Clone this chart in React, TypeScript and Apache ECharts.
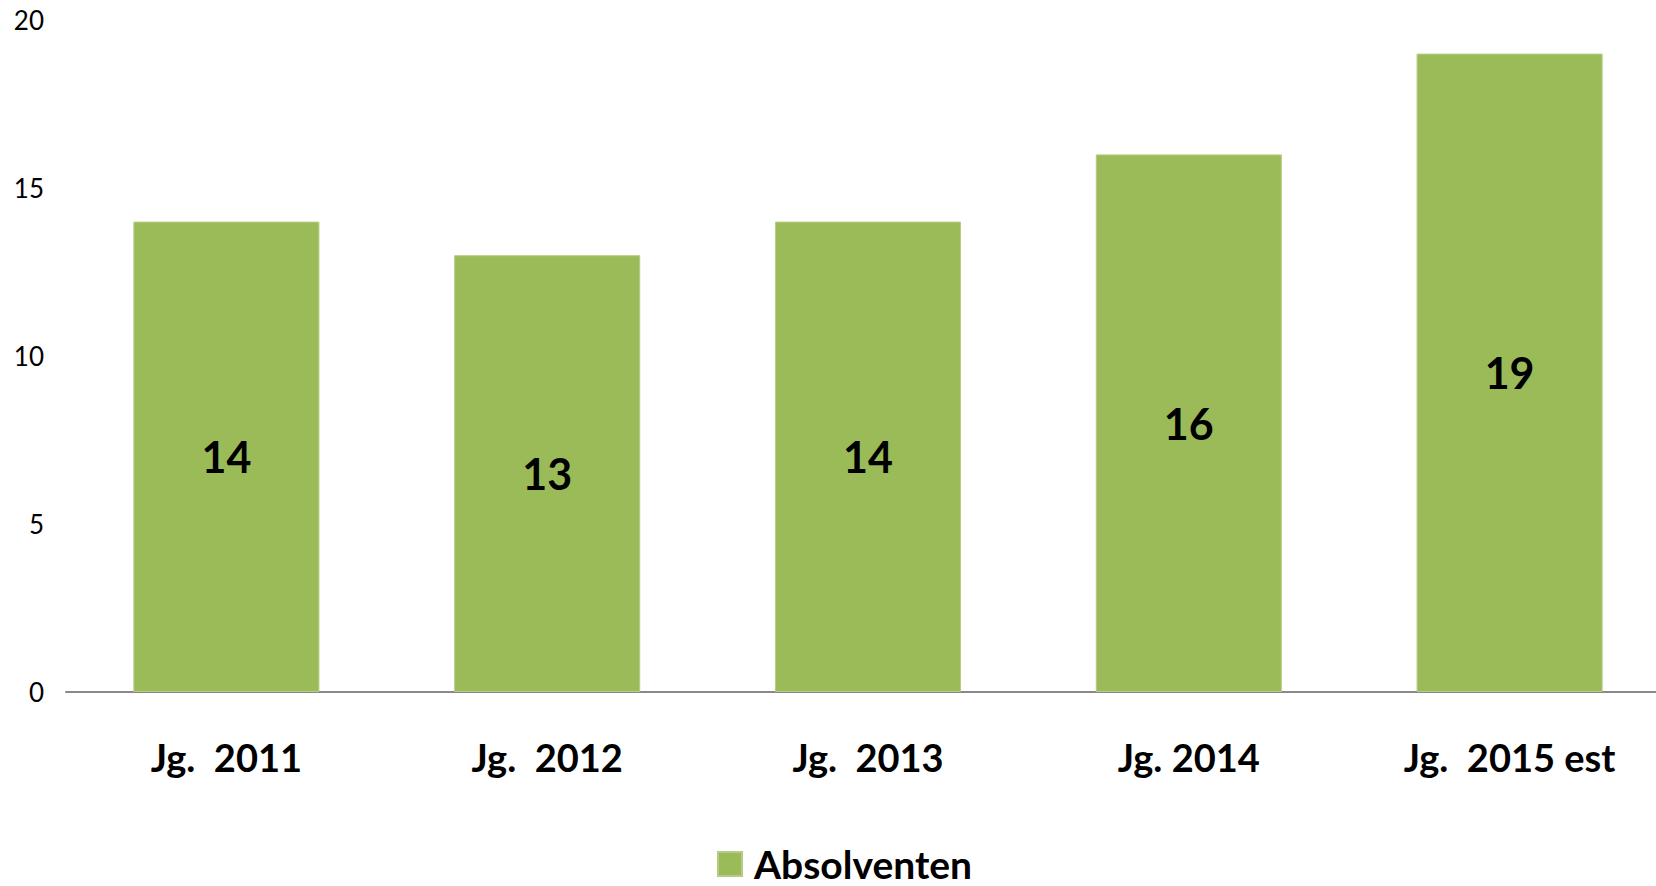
import React, { useEffect, useRef } from "react";
import * as echarts from "echarts";

const categories = ["Jg.  2011", "Jg.  2012", "Jg.  2013", "Jg. 2014", "Jg.  2015 est"];
const absolventen = [14, 13, 14, 16, 19];
const seriesName = "Absolventen";
const yTicks = { min: 0, max: 20, interval: 5 };

export default function App() {
  const ref = useRef<HTMLDivElement>(null);
  useEffect(() => {
    if (!ref.current) return;
    const chart = echarts.init(ref.current, null, { renderer: "svg" });
    chart.setOption({
      animation: false,
      backgroundColor: "#ffffff",
      textStyle: { fontFamily: "Lato" },
      grid: { left: 66, top: 20, right: 0, height: 672, containLabel: false },
      legend: {
        data: [seriesName],
        left: 712,
        top: 839,
        icon: "rect",
        itemWidth: 24,
        itemHeight: 24,
        textStyle: {
          fontSize: 39,
          lineHeight: 40,
          fontWeight: "bold",
          color: "#000",
          fontFamily: "Lato",
          padding: [0, 0, 0, 7],
        },
      },
      xAxis: {
        type: "category",
        data: categories,
        axisLine: { lineStyle: { color: "#898989", width: 2 } },
        axisTick: { show: false },
        axisLabel: { fontSize: 38, fontWeight: "bold", color: "#000", margin: 46, fontFamily: "Lato" },
      },
      yAxis: {
        type: "value",
        min: yTicks.min,
        max: yTicks.max,
        interval: yTicks.interval,
        splitLine: { show: false },
        axisLine: { show: false },
        axisTick: { show: false },
        axisLabel: { fontSize: 26, color: "#000", margin: 22, fontFamily: "Lato" },
      },
      series: [
        {
          name: seriesName,
          type: "bar",
          data: absolventen,
          barCategoryGap: "42%",
          itemStyle: { color: "#9BBB59", borderColor: "#B4CC85", borderWidth: 1 },
          label: {
            show: true,
            position: "inside",
            fontSize: 43,
            fontWeight: "bold",
            color: "#000",
            fontFamily: "Lato",
          },
        },
      ],
    });
    return () => chart.dispose();
  }, []);
  return (
    <div style={{ position: "fixed", left: 0, top: 0, width: 1656, height: 886, overflow: "hidden", background: "#fff" }}>
      <div ref={ref} style={{ position: "absolute", left: 0, top: 0, width: 1670, height: 886 }} />
    </div>
  );
}
